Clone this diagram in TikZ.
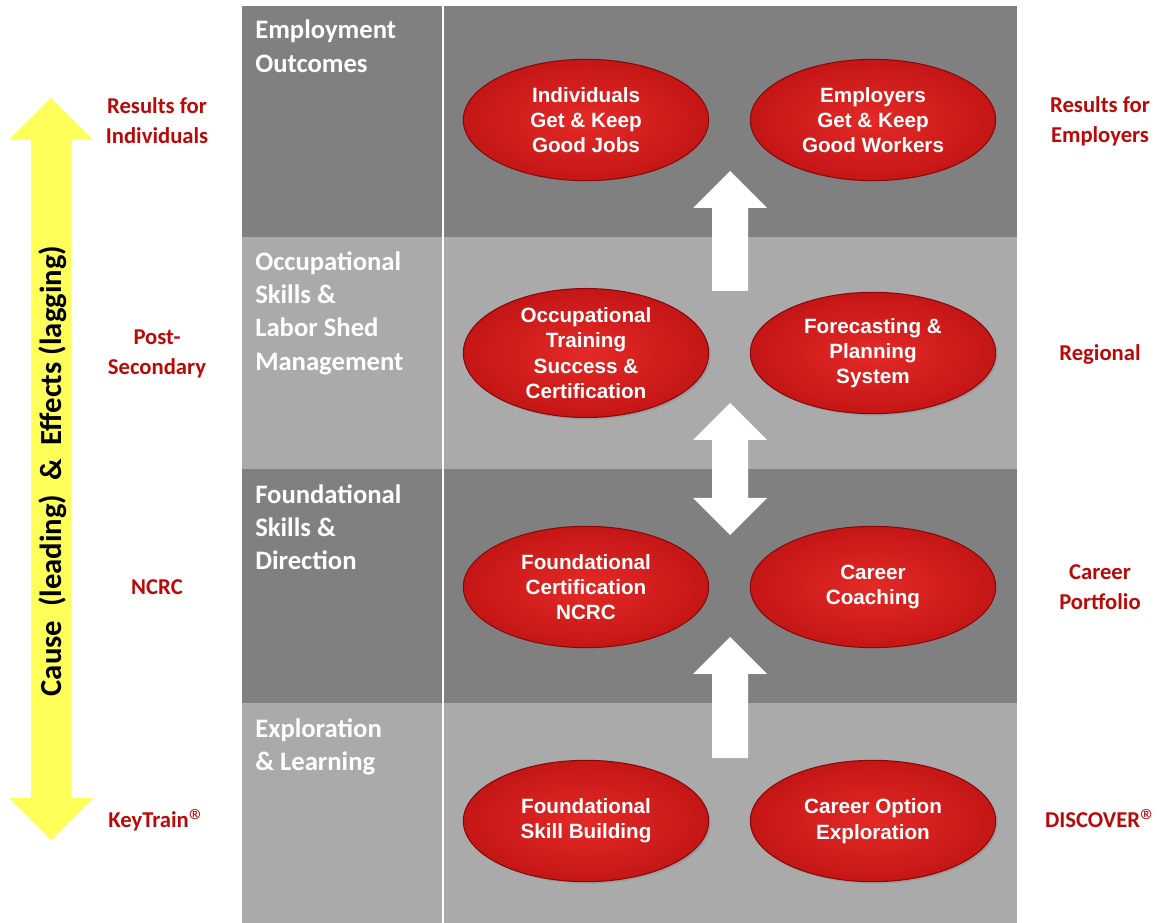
\documentclass[tikz,border=0pt]{standalone}
\usepackage{fontspec}
\setmainfont{Carlito}
\newfontfamily\ovalfont{Liberation Sans}
\usetikzlibrary{shapes.geometric,shadows}

\definecolor{darkband}{RGB}{128,128,128}
\definecolor{lightband}{RGB}{170,170,170}
\definecolor{labelred}{RGB}{185,10,10}
\definecolor{ovalin}{RGB}{228,42,38}
\definecolor{ovalout}{RGB}{196,22,22}
\definecolor{ovaledge}{RGB}{140,8,8}
\definecolor{causeyellow}{RGB}{255,255,90}

\tikzset{
  oval/.style={ellipse, minimum width=184pt, minimum height=91pt, inner sep=0pt,
    draw=ovaledge, line width=0.8pt, inner color=ovalin, outer color=ovalout,
    drop shadow={opacity=0.35, shadow xshift=1.5pt, shadow yshift=-1.5pt},
    text=white, align=center, font=\ovalfont\bfseries\fontsize{15.5}{19}\selectfont},
  bandtitle/.style={anchor=north west, inner sep=0pt, text=white, align=left,
    font=\bfseries\fontsize{20}{25}\selectfont},
  sidelabel/.style={text=labelred, align=center, font=\bfseries\fontsize{17}{22.5}\selectfont}
}

% block arrow pointing up: x, tip y, tail y
\newcommand{\blockup}[3]{%
  \fill[white] (#1,#2) -- (#1+37,#2+37) -- (#1+18,#2+37) -- (#1+18,#3)
    -- (#1-18,#3) -- (#1-18,#2+37) -- (#1-37,#2+37) -- cycle;}
% registered mark as printed beside the side labels
\newcommand{\regmark}{\raisebox{-0.2em}{\mdseries\fontsize{25}{25}\selectfont\textregistered}}

\begin{document}
\begin{tikzpicture}[x=0.75pt, y=-0.75pt]
  \useasboundingbox (0,0) rectangle (1165,923);

  % bands
  \fill[darkband]  (242,6)   rectangle (1017,237);
  \fill[lightband] (242,237) rectangle (1017,469);
  \fill[darkband]  (242,469) rectangle (1017,703);
  \fill[lightband] (242,703) rectangle (1017,923);
  \draw[white, line width=2.2pt] (443,6) -- (443,923);

  \node[bandtitle] (t1) at (255,20)  {Employment\\Outcomes};
  \node[bandtitle] (t2) at (255,251) {Occupational\\Skills \&\\Labor Shed\\Management};
  \node[bandtitle] (t3) at (255,484) {Foundational\\Skills \&\\Direction};
  \node[bandtitle] (t4) at (255,718) {Exploration\\\& Learning};

  % yellow cause/effect arrow
  \fill[causeyellow] (51,98) -- (93,140) -- (71,140) -- (71,798) -- (93,798)
    -- (51,840) -- (9,798) -- (31,798) -- (31,140) -- (9,140) -- cycle;
  \node[rotate=90, font=\bfseries\fontsize{23}{27}\selectfont] (cause) at (53,471)
    {Cause\ \ (leading)\ \ \&\ \ Effects\ (lagging)};

  % white arrows
  \blockup{730}{171}{291}
  \fill[white] (730,403) -- (767,440) -- (748,440) -- (748,498) -- (767,498)
    -- (730,535) -- (693,498) -- (712,498) -- (712,440) -- (693,440) -- cycle;
  \blockup{730}{637}{758}

  % ovals
  \node[oval] (jobs)    at (586,120) {Individuals\\Get \& Keep\\Good Jobs};
  \node[oval] (workers) at (873,120) {Employers\\Get \& Keep\\Good Workers};
  \node[oval] (train)   at (586,353) {Occupational\\Training\\Success \&\\Certification};
  \node[oval] (plan)    at (873,353) {Forecasting \&\\Planning\\System};
  \node[oval] (ncrc)    at (586,587) {Foundational\\Certification\\NCRC};
  \node[oval] (coach)   at (873,587) {Career\\Coaching};
  \node[oval] (skill)   at (586,821) {Foundational\\Skill Building};
  \node[oval] (option)  at (873,821) {Career Option\\Exploration};

  % side labels
  \node[sidelabel] (lind)  at (157,121) {Results for\\Individuals};
  \node[sidelabel] (lpost) at (157,354) {Post-\\Secondary};
  \node[sidelabel] (lncrc) at (157,587) {NCRC};
  \node[sidelabel] (lkey)  at (157,821) {KeyTrain\regmark};
  \node[sidelabel] (remp)  at (1100,121) {Results for\\Employers};
  \node[sidelabel] (rreg)  at (1100,354) {Regional};
  \node[sidelabel] (rport) at (1100,587) {Career\\Portfolio};
  \node[sidelabel] (rdisc) at (1101,821) {DISCOVER\regmark};
\end{tikzpicture}
\end{document}
